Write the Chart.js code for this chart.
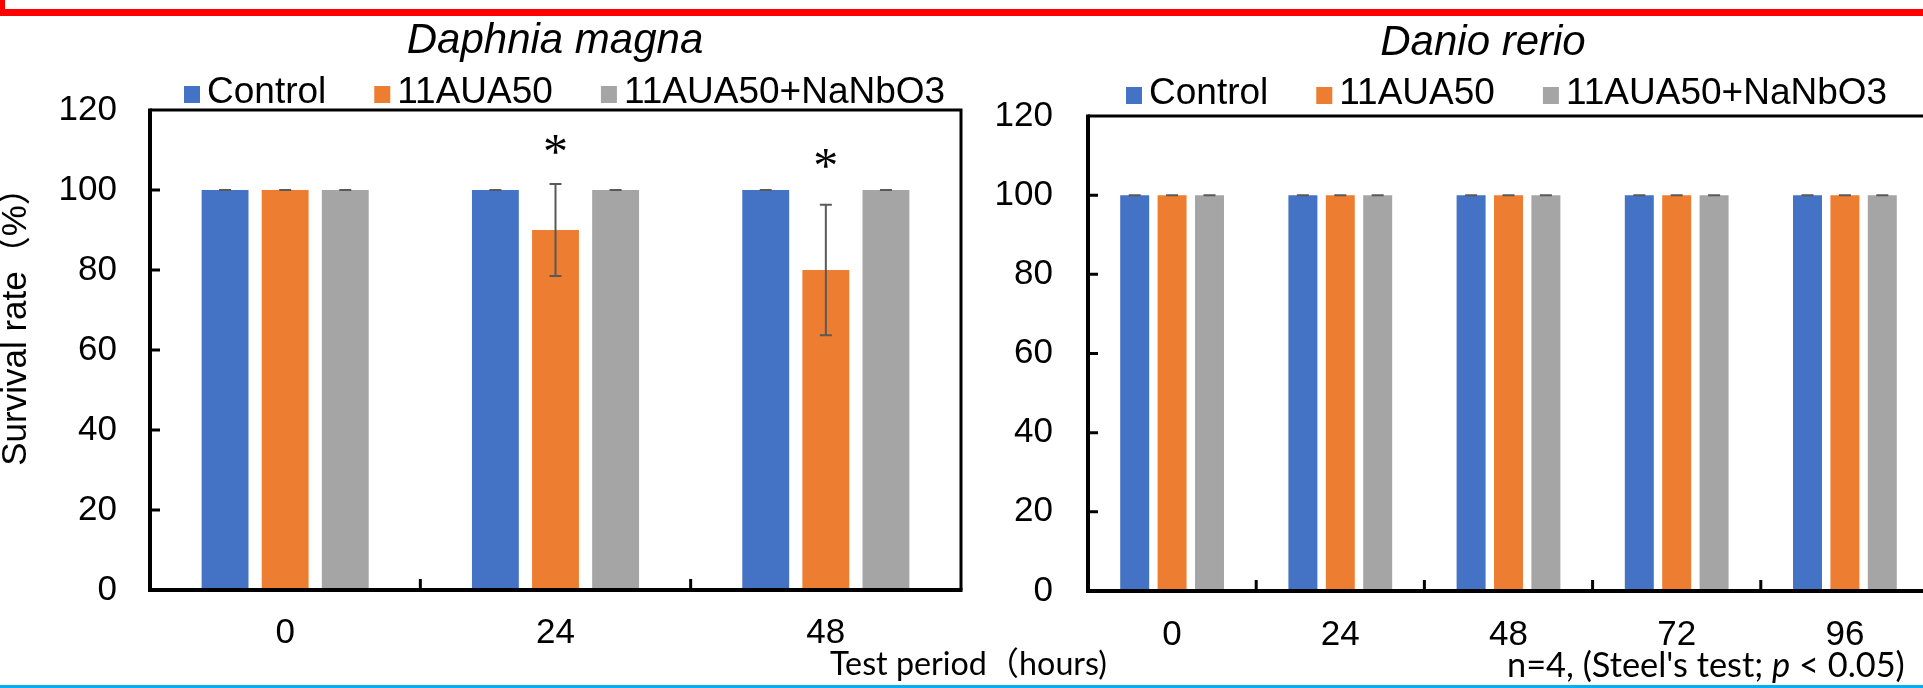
<!DOCTYPE html>
<html>
<head>
<meta charset="utf-8">
<script src="https://cdn.jsdelivr.net/npm/chart.js@4.4.1/dist/chart.umd.min.js"></script>
<style>
  html, body { margin: 0; padding: 0; width: 1923px; height: 688px; overflow: hidden; background: #fff; }
  canvas { position: absolute; top: 0; }
  #daphnia { left: 0; }
  #danio { left: 963px; }
  #overlay { left: 0; pointer-events: none; }
  #redBox { position: absolute; left: 0; top: 0; width: 1918px; height: 9px; border-left: 5px solid #ff0000; border-bottom: 7px solid #ff0000; }
  #blueLine { position: absolute; left: 0; top: 685px; width: 1923px; height: 3px; background: #00b0f0; }
</style>
</head>
<body>
<div id="redBox"></div>
<canvas id="daphnia" width="964" height="688"></canvas>
<canvas id="danio" width="970" height="688"></canvas>
<canvas id="overlay" width="1923" height="688"></canvas>
<div id="blueLine"></div>

<script>
// series shared by both panels
const seriesNames = ['Control', '11AUA50', '11AUA50+NaNbO3'];
const seriesColors = ['#4472C4', '#ED7D31', '#A5A5A5'];
const yTicks = [0, 20, 40, 60, 80, 100, 120];

// Daphnia magna (survival %, mean and SD)
const daphniaHours = ['0', '24', '48'];
const daphniaControl = [100, 100, 100];
const daphnia11AUA50 = [100, 90, 80];
const daphniaNaNbO3 = [100, 100, 100];
const daphniaControlSd = [0, 0, 0];
const daphnia11AUA50Sd = [0, 11.5, 16.3];
const daphniaNaNbO3Sd = [0, 0, 0];
const daphniaStars = ['', '*', '*'];        // significance on 11AUA50
const daphniaStarLevel = [null, 111.3, 107.8];

// Danio rerio
const danioHours = ['0', '24', '48', '72', '96'];
const danioControl = [100, 100, 100, 100, 100];
const danio11AUA50 = [100, 100, 100, 100, 100];
const danioNaNbO3 = [100, 100, 100, 100, 100];
const danioControlSd = [0, 0, 0, 0, 0];
const danio11AUA50Sd = [0, 0, 0, 0, 0];
const danioNaNbO3Sd = [0, 0, 0, 0, 0];

const SANS = '"Liberation Sans", Arial, "Noto Sans CJK JP", sans-serif';

function decorPlugin(cfg) {
  return {
    id: 'decor',
    afterDraw(chart) {
      const ctx = chart.ctx;
      const a = chart.chartArea;
      const xs = chart.scales.x, ys = chart.scales.y;
      ctx.save();

      // error bars
      ctx.strokeStyle = '#595959';
      ctx.lineWidth = 2;
      cfg.sd.forEach((errs, i) => {
        chart.getDatasetMeta(i).data.forEach((bar, j) => {
          const v = chart.data.datasets[i].data[j];
          const top = ys.getPixelForValue(v + errs[j]);
          const bot = ys.getPixelForValue(v - errs[j]);
          ctx.beginPath();
          ctx.moveTo(bar.x, top); ctx.lineTo(bar.x, bot);
          ctx.moveTo(bar.x - 6, top); ctx.lineTo(bar.x + 6, top);
          ctx.moveTo(bar.x - 6, bot); ctx.lineTo(bar.x + 6, bot);
          ctx.stroke();
        });
      });

      // plot frame
      ctx.strokeStyle = '#000';
      ctx.lineWidth = 3;
      ctx.beginPath();
      ctx.moveTo(a.left, a.top); ctx.lineTo(a.right, a.top);
      if (cfg.rightBorder) { ctx.lineTo(a.right, a.bottom); }
      ctx.stroke();
      ctx.lineWidth = 4;
      ctx.beginPath();
      ctx.moveTo(a.left, a.top - 1.5);
      ctx.lineTo(a.left, a.bottom);
      ctx.lineTo(a.right + 1.5, a.bottom);
      ctx.stroke();

      // inside tick marks
      ctx.lineWidth = 3;
      ctx.beginPath();
      ys.ticks.forEach(t => {
        const py = ys.getPixelForValue(t.value);
        if (t.value === 0 || t.value === 120) return;
        ctx.moveTo(a.left, py); ctx.lineTo(a.left + 10, py);
      });
      for (let i = 1; i < chart.data.labels.length; i++) {
        const px = (xs.getPixelForValue(i - 1) + xs.getPixelForValue(i)) / 2;
        ctx.moveTo(px, a.bottom); ctx.lineTo(px, a.bottom - 11);
      }
      ctx.stroke();

      // significance marks
      if (cfg.stars) {
        ctx.fillStyle = '#000';
        ctx.font = '50px "Liberation Serif", "DejaVu Serif", serif';
        ctx.textAlign = 'center';
        ctx.textBaseline = 'alphabetic';
        const bars = chart.getDatasetMeta(cfg.starSeries).data;
        cfg.stars.forEach((s, j) => {
          if (!s) return;
          const m = ctx.measureText(s);
          const cy = ys.getPixelForValue(cfg.starLevel[j]);
          ctx.fillText(s, bars[j].x, cy + (m.actualBoundingBoxAscent - m.actualBoundingBoxDescent) / 2);
        });
      }

      // title
      ctx.fillStyle = '#000';
      ctx.textAlign = 'center';
      ctx.textBaseline = 'alphabetic';
      ctx.font = 'italic 42px ' + SANS;
      ctx.fillText(cfg.title, cfg.titleX, cfg.titleY);

      // legend
      ctx.font = '37px ' + SANS;
      ctx.textAlign = 'left';
      let lx = cfg.legendX;
      seriesNames.forEach((name, i) => {
        ctx.fillStyle = seriesColors[i];
        ctx.fillRect(lx, cfg.legendY - 17, 16, 17);
        lx += 16 + 7;
        ctx.fillStyle = '#000';
        ctx.fillText(name, lx, cfg.legendY);
        lx += ctx.measureText(name).width + 48;
      });

      // y axis title
      if (cfg.yTitle) {
        ctx.translate(26, 318);
        ctx.rotate(-Math.PI / 2);
        ctx.textAlign = 'center';
        ctx.font = '35px ' + SANS;
        ctx.fillText(cfg.yTitle, 0, 0);
      }
      ctx.restore();
    }
  };
}

function makeChart(id, labels, values, sd, opts) {
  const font = { family: SANS, size: 35 };
  return new Chart(document.getElementById(id), {
    type: 'bar',
    data: {
      labels: labels,
      datasets: values.map((v, i) => ({
        label: seriesNames[i],
        data: v,
        backgroundColor: seriesColors[i],
        borderWidth: 0
      }))
    },
    options: {
      responsive: false,
      animation: false,
      layout: { padding: { left: 0, top: opts.top, right: opts.right, bottom: 0 } },
      datasets: { bar: { categoryPercentage: 0.667, barPercentage: opts.barPct } },
      plugins: { legend: { display: false }, title: { display: false }, tooltip: { enabled: false } },
      scales: {
        x: {
          grid: { display: false, drawTicks: false },
          border: { display: false },
          ticks: { color: '#000', font: font, padding: opts.xPad },
          afterFit: s => { s.height = opts.xHeight; }
        },
        y: {
          min: 0, max: 120,
          grid: { display: false, drawTicks: false },
          border: { display: false },
          ticks: { color: '#000', font: font, padding: opts.yPad },
          afterBuildTicks: s => { s.ticks = yTicks.map(v => ({ value: v })); },
          afterFit: s => { s.width = opts.yWidth; }
        }
      }
    },
    plugins: [decorPlugin(Object.assign({ sd: sd }, opts))]
  });
}

makeChart('daphnia', daphniaHours,
  [daphniaControl, daphnia11AUA50, daphniaNaNbO3],
  [daphniaControlSd, daphnia11AUA50Sd, daphniaNaNbO3Sd],
  {
    top: 110, right: 3, xHeight: 98, yWidth: 150, xPad: 22, yPad: 33, barPct: 0.78,
    rightBorder: true,
    title: 'Daphnia magna', titleX: 555, titleY: 53,
    legendX: 184, legendY: 103,
    stars: daphniaStars, starLevel: daphniaStarLevel, starSeries: 1,
    yTitle: 'Survival rate（%）'
  });

makeChart('danio', danioHours,
  [danioControl, danio11AUA50, danioNaNbO3],
  [danioControlSd, danio11AUA50Sd, danioNaNbO3Sd],
  {
    top: 116, right: 4, xHeight: 97, yWidth: 125, xPad: 23, yPad: 35, barPct: 0.775,
    rightBorder: false,
    title: 'Danio rerio', titleX: 520, titleY: 55,
    legendX: 163, legendY: 104
  });

// free captions under the panels
const ov = document.getElementById('overlay').getContext('2d');
function fitText(parts, x, baseline, width, family) {
  const base = 30;
  let total = 0;
  parts.forEach(p => {
    ov.font = (p.italic ? 'italic ' : '') + base + 'px ' + (p.family || family);
    total += ov.measureText(p.t).width;
  });
  const size = base * width / total;
  let cx = x;
  ov.fillStyle = '#000';
  ov.textBaseline = 'alphabetic';
  parts.forEach(p => {
    ov.font = (p.italic ? 'italic ' : '') + size + 'px ' + (p.family || family);
    ov.fillText(p.t, cx, baseline);
    cx += ov.measureText(p.t).width;
  });
}
const CAPTION = 'Lato, "Noto Sans CJK JP", sans-serif';
fitText([{ t: 'Test period' }, { t: '（', family: '"Noto Sans CJK JP"' }, { t: 'hours)' }], 830, 675, 277, CAPTION);
fitText([{ t: "n=4, (Steel's test; " }, { t: 'p', italic: true }, { t: ' < 0.05)' }], 1507, 677, 398, CAPTION);
</script>
</body>
</html>
